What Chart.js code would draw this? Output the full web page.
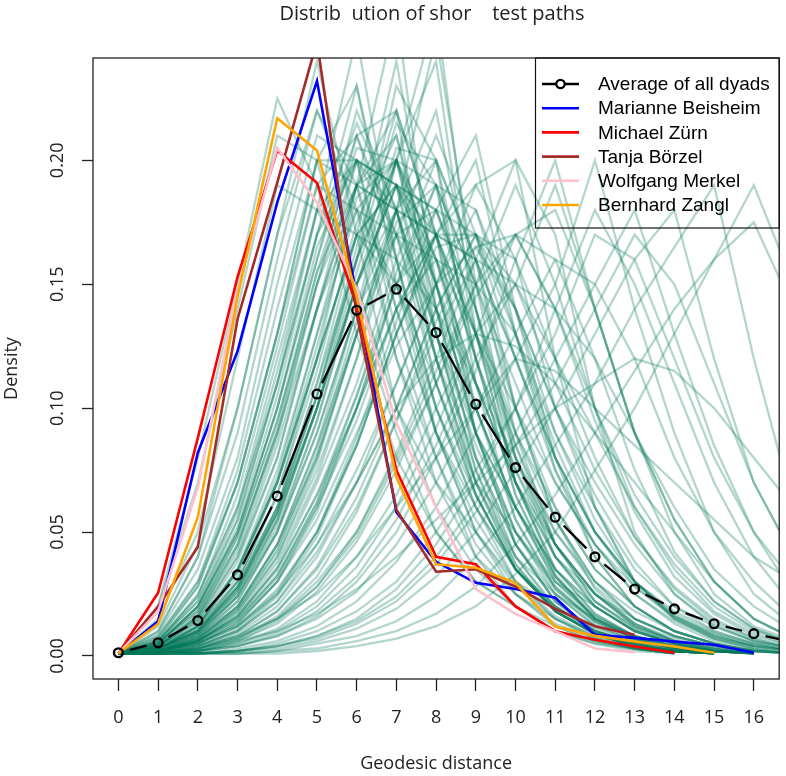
<!DOCTYPE html>
<html>
<head>
<meta charset="utf-8">
<script src="https://cdn.jsdelivr.net/npm/chart.js@4.4.1/dist/chart.umd.min.js"></script>
<style>
    html, body { margin: 0; padding: 0; background: #fff; }
    #wrap { width: 786px; height: 776px; }
</style>
</head>
<body>
<div id="wrap"><canvas id="chart" width="786" height="776"></canvas></div>
<script>
const titleText = 'Distrib  ution of shor    test paths';
const xTitle = 'Geodesic distance';
const yTitle = 'Density';

const xValues = [0, 1, 2, 3, 4, 5, 6, 7, 8, 9, 10, 11, 12, 13, 14, 15, 16, 17];
const xTicks = [0, 1, 2, 3, 4, 5, 6, 7, 8, 9, 10, 11, 12, 13, 14, 15, 16];
const yTicks = [0, 0.05, 0.1, 0.15, 0.2];

const averageValues = [0.0013, 0.0053, 0.0143, 0.0327, 0.0645, 0.1057, 0.1395, 0.148, 0.1305, 0.1016, 0.076, 0.056, 0.040, 0.027, 0.019, 0.013, 0.009, 0.0055];
const beisheimValues = [0.001, 0.014, 0.082, 0.123, 0.183, 0.232, 0.145, 0.058, 0.038, 0.0295, 0.027, 0.0235, 0.0085, 0.0073, 0.0058, 0.0045, 0.0013];
const zuernValues = [0.001, 0.0255, 0.088, 0.153, 0.204, 0.191, 0.141, 0.075, 0.040, 0.037, 0.020, 0.010, 0.0065, 0.0038, 0.0013];
const boerzelValues = [0.001, 0.020, 0.044, 0.136, 0.191, 0.248, 0.138, 0.059, 0.034, 0.035, 0.028, 0.019, 0.012, 0.0085];
const merkelValues = [0.001, 0.018, 0.068, 0.148, 0.205, 0.183, 0.148, 0.094, 0.06, 0.027, 0.017, 0.010, 0.003, 0.0015];
const zanglValues = [0.001, 0.013, 0.056, 0.145, 0.217, 0.204, 0.145, 0.072, 0.037, 0.0356, 0.0295, 0.0119, 0.0081, 0.0058, 0.0038, 0.0013];

const legendLabels = ['Average of all dyads', 'Marianne Beisheim', 'Michael Zürn', 'Tanja Börzel', 'Wolfgang Merkel', 'Bernhard Zangl'];
const legendColors = ['#000000', '#0000FF', '#FF0000', '#A52A2A', '#FFC0CB', '#FFA500'];

// one row per dyad, density at distance 0, 1, 2, ...
const dyadCurves = [
    [0.001, 0.02, 0.07, 0.14, 0.21, 0.2, 0.14, 0.09, 0.05, 0.03, 0.02, 0.01, 0.005, 0.003, 0.001],
    [0.001, 0.015, 0.05, 0.12, 0.19, 0.18, 0.15, 0.1, 0.07, 0.05, 0.03, 0.02, 0.01, 0.005, 0.002, 0.001],
    [0.001, 0.02, 0.08, 0.15, 0.225, 0.19, 0.13, 0.08, 0.05, 0.03, 0.02, 0.01, 0.006, 0.003, 0.001],
    [0.001, 0.01, 0.04, 0.09, 0.16, 0.22, 0.18, 0.12, 0.08, 0.04, 0.025, 0.015, 0.008, 0.004, 0.002, 0.001],
    [0.001, 0.008, 0.03, 0.07, 0.13, 0.2, 0.19, 0.14, 0.09, 0.06, 0.035, 0.02, 0.01, 0.005, 0.002, 0.001],
    [0.001, 0.012, 0.045, 0.1, 0.17, 0.24, 0.17, 0.1, 0.06, 0.035, 0.02, 0.012, 0.006, 0.003, 0.001],
    [0.001, 0.006, 0.025, 0.06, 0.12, 0.18, 0.17, 0.15, 0.11, 0.07, 0.05, 0.03, 0.015, 0.008, 0.004, 0.002, 0.001],
    [0.001, 0.007, 0.028, 0.07, 0.13, 0.19, 0.18, 0.15, 0.1, 0.065, 0.035, 0.018, 0.009, 0.004, 0.002, 0.001],
    [0.001, 0.009, 0.035, 0.08, 0.15, 0.21, 0.2, 0.13, 0.08, 0.045, 0.025, 0.013, 0.007, 0.003, 0.001],
    [0.001, 0.005, 0.02, 0.05, 0.1, 0.16, 0.21, 0.17, 0.12, 0.07, 0.04, 0.025, 0.015, 0.008, 0.004, 0.002, 0.001],
    [0.001, 0.004, 0.015, 0.04, 0.08, 0.14, 0.19, 0.18, 0.13, 0.09, 0.06, 0.03, 0.02, 0.01, 0.005, 0.002, 0.001],
    [0.001, 0.006, 0.022, 0.055, 0.11, 0.17, 0.23, 0.16, 0.1, 0.06, 0.035, 0.02, 0.01, 0.005, 0.002, 0.001],
    [0.001, 0.003, 0.012, 0.035, 0.07, 0.12, 0.17, 0.16, 0.14, 0.11, 0.07, 0.045, 0.025, 0.015, 0.008, 0.004, 0.002, 0.001],
    [0.001, 0.005, 0.018, 0.045, 0.09, 0.15, 0.2, 0.19, 0.12, 0.08, 0.045, 0.025, 0.012, 0.006, 0.003, 0.001],
    [0.001, 0.004, 0.016, 0.045, 0.09, 0.14, 0.18, 0.17, 0.14, 0.1, 0.06, 0.03, 0.016, 0.008, 0.004, 0.002, 0.001],
    [0.001, 0.005, 0.02, 0.05, 0.1, 0.16, 0.22, 0.18, 0.11, 0.065, 0.035, 0.018, 0.009, 0.004, 0.002, 0.001],
    [0.001, 0.006, 0.024, 0.06, 0.11, 0.18, 0.25, 0.16, 0.09, 0.05, 0.028, 0.015, 0.007, 0.003, 0.001],
    [0.001, 0.004, 0.017, 0.048, 0.095, 0.15, 0.19, 0.2, 0.13, 0.075, 0.04, 0.02, 0.01, 0.005, 0.002, 0.001],
    [0.001, 0.003, 0.01, 0.03, 0.06, 0.11, 0.16, 0.2, 0.16, 0.11, 0.07, 0.04, 0.025, 0.012, 0.006, 0.003, 0.001],
    [0.001, 0.002, 0.008, 0.022, 0.05, 0.09, 0.14, 0.18, 0.17, 0.13, 0.09, 0.06, 0.035, 0.02, 0.01, 0.005, 0.002, 0.001],
    [0.001, 0.004, 0.014, 0.035, 0.07, 0.12, 0.17, 0.24, 0.15, 0.09, 0.05, 0.028, 0.014, 0.007, 0.003, 0.001],
    [0.001, 0.002, 0.009, 0.025, 0.055, 0.1, 0.15, 0.19, 0.15, 0.11, 0.08, 0.05, 0.03, 0.018, 0.01, 0.005, 0.002, 0.001],
    [0.001, 0.003, 0.011, 0.028, 0.06, 0.105, 0.165, 0.22, 0.17, 0.1, 0.06, 0.035, 0.02, 0.01, 0.005, 0.002, 0.001],
    [0.001, 0.002, 0.007, 0.02, 0.045, 0.085, 0.13, 0.17, 0.16, 0.13, 0.1, 0.07, 0.045, 0.025, 0.013, 0.006, 0.003, 0.001],
    [0.001, 0.003, 0.01, 0.028, 0.058, 0.1, 0.15, 0.2, 0.17, 0.12, 0.075, 0.045, 0.025, 0.012, 0.006, 0.003, 0.001],
    [0.001, 0.004, 0.012, 0.03, 0.065, 0.115, 0.175, 0.21, 0.14, 0.09, 0.06, 0.035, 0.02, 0.01, 0.005, 0.002, 0.001],
    [0.001, 0.002, 0.006, 0.016, 0.035, 0.065, 0.1, 0.15, 0.19, 0.15, 0.11, 0.07, 0.045, 0.028, 0.016, 0.009, 0.004, 0.002],
    [0.001, 0.002, 0.005, 0.013, 0.03, 0.06, 0.1, 0.14, 0.17, 0.16, 0.12, 0.08, 0.05, 0.03, 0.018, 0.01, 0.005, 0.002],
    [0.001, 0.003, 0.008, 0.02, 0.045, 0.08, 0.13, 0.18, 0.22, 0.14, 0.08, 0.045, 0.025, 0.013, 0.006, 0.003, 0.001],
    [0.001, 0.002, 0.006, 0.015, 0.032, 0.06, 0.095, 0.14, 0.16, 0.15, 0.13, 0.09, 0.06, 0.035, 0.02, 0.012, 0.006, 0.003],
    [0.001, 0.002, 0.006, 0.016, 0.036, 0.07, 0.11, 0.16, 0.2, 0.16, 0.1, 0.06, 0.035, 0.02, 0.01, 0.005, 0.002, 0.001],
    [0.001, 0.002, 0.007, 0.018, 0.04, 0.075, 0.12, 0.18, 0.25, 0.15, 0.08, 0.04, 0.02, 0.01, 0.005, 0.002, 0.001],
    [0.001, 0.003, 0.009, 0.024, 0.05, 0.09, 0.14, 0.17, 0.18, 0.14, 0.09, 0.055, 0.03, 0.015, 0.008, 0.004, 0.002],
    [0.001, 0.002, 0.004, 0.01, 0.022, 0.045, 0.075, 0.11, 0.15, 0.18, 0.14, 0.1, 0.07, 0.045, 0.025, 0.013, 0.006, 0.003],
    [0.001, 0.001, 0.003, 0.008, 0.018, 0.035, 0.06, 0.095, 0.13, 0.16, 0.15, 0.12, 0.09, 0.06, 0.037, 0.02, 0.01, 0.005],
    [0.001, 0.002, 0.005, 0.012, 0.027, 0.05, 0.085, 0.13, 0.17, 0.2, 0.13, 0.08, 0.05, 0.03, 0.016, 0.008, 0.004, 0.002],
    [0.001, 0.001, 0.004, 0.01, 0.022, 0.042, 0.07, 0.1, 0.14, 0.17, 0.15, 0.11, 0.075, 0.048, 0.028, 0.015, 0.007, 0.003],
    [0.001, 0.002, 0.006, 0.014, 0.03, 0.055, 0.09, 0.125, 0.15, 0.165, 0.14, 0.09, 0.055, 0.03, 0.016, 0.008, 0.004],
    [0.001, 0.001, 0.003, 0.007, 0.015, 0.03, 0.05, 0.08, 0.115, 0.15, 0.17, 0.14, 0.1, 0.065, 0.04, 0.022, 0.011, 0.005],
    [0.001, 0.001, 0.002, 0.005, 0.011, 0.022, 0.04, 0.065, 0.1, 0.13, 0.15, 0.14, 0.12, 0.09, 0.06, 0.035, 0.02, 0.01],
    [0.001, 0.001, 0.003, 0.007, 0.015, 0.028, 0.048, 0.078, 0.11, 0.15, 0.19, 0.15, 0.1, 0.06, 0.035, 0.018, 0.009, 0.004],
    [0.001, 0.002, 0.004, 0.008, 0.015, 0.025, 0.04, 0.06, 0.08, 0.1, 0.12, 0.115, 0.1, 0.085, 0.07, 0.055, 0.04, 0.03],
    [0.001, 0.001, 0.002, 0.004, 0.009, 0.018, 0.032, 0.055, 0.085, 0.12, 0.15, 0.19, 0.14, 0.09, 0.055, 0.03, 0.015, 0.007],
    [0.001, 0.001, 0.002, 0.004, 0.008, 0.015, 0.026, 0.045, 0.07, 0.1, 0.13, 0.16, 0.15, 0.12, 0.08, 0.05, 0.03, 0.015],
    [0.001, 0.001, 0.002, 0.004, 0.008, 0.016, 0.03, 0.05, 0.08, 0.115, 0.16, 0.2, 0.14, 0.09, 0.055, 0.03, 0.015, 0.007],
    [0.001, 0.001, 0.001, 0.003, 0.006, 0.012, 0.022, 0.038, 0.06, 0.09, 0.12, 0.15, 0.2, 0.14, 0.09, 0.05, 0.025, 0.012],
    [0.001, 0.001, 0.001, 0.002, 0.005, 0.01, 0.018, 0.03, 0.05, 0.075, 0.1, 0.13, 0.17, 0.16, 0.12, 0.08, 0.05, 0.025],
    [0.001, 0.001, 0.001, 0.002, 0.004, 0.008, 0.015, 0.027, 0.045, 0.07, 0.1, 0.14, 0.18, 0.15, 0.11, 0.07, 0.04, 0.02],
    [0.001, 0.001, 0.001, 0.002, 0.004, 0.008, 0.014, 0.024, 0.04, 0.062, 0.09, 0.12, 0.15, 0.18, 0.13, 0.085, 0.05, 0.03],
    [0.001, 0.001, 0.001, 0.002, 0.004, 0.007, 0.013, 0.022, 0.037, 0.058, 0.085, 0.11, 0.14, 0.17, 0.15, 0.11, 0.07, 0.04],
    [0.001, 0.001, 0.001, 0.002, 0.003, 0.006, 0.011, 0.019, 0.032, 0.05, 0.075, 0.1, 0.13, 0.16, 0.18, 0.12, 0.07, 0.04],
    [0.001, 0.001, 0.001, 0.001, 0.002, 0.005, 0.008, 0.014, 0.024, 0.04, 0.06, 0.085, 0.11, 0.14, 0.165, 0.19, 0.12, 0.06],
    [0.001, 0.001, 0.001, 0.001, 0.002, 0.003, 0.006, 0.01, 0.017, 0.028, 0.045, 0.065, 0.09, 0.115, 0.14, 0.16, 0.175, 0.14],
    [0.001, 0.001, 0.001, 0.001, 0.001, 0.002, 0.004, 0.007, 0.012, 0.02, 0.033, 0.05, 0.075, 0.1, 0.13, 0.16, 0.19, 0.15],
    [0.001, 0.002, 0.003, 0.006, 0.01, 0.017, 0.027, 0.04, 0.055, 0.07, 0.085, 0.1, 0.11, 0.12, 0.115, 0.1, 0.08, 0.06],
    [0.001, 0.002, 0.005, 0.012, 0.025, 0.045, 0.07, 0.1, 0.12, 0.13, 0.125, 0.11, 0.09, 0.07, 0.05, 0.03, 0.015, 0.007],
    [0.001, 0.008, 0.03, 0.075, 0.14, 0.2, 0.2, 0.14, 0.09, 0.055, 0.03, 0.016, 0.008, 0.004, 0.002, 0.001],
    [0.001, 0.005, 0.02, 0.055, 0.11, 0.17, 0.2, 0.18, 0.12, 0.07, 0.035, 0.018, 0.009, 0.004, 0.002, 0.001],
    [0.001, 0.003, 0.012, 0.035, 0.075, 0.13, 0.18, 0.2, 0.16, 0.1, 0.055, 0.028, 0.014, 0.007, 0.003, 0.001],
    [0.001, 0.004, 0.015, 0.04, 0.085, 0.14, 0.19, 0.21, 0.15, 0.09, 0.045, 0.022, 0.011, 0.005, 0.002, 0.001],
    [0.001, 0.006, 0.024, 0.065, 0.125, 0.19, 0.21, 0.16, 0.1, 0.06, 0.03, 0.015, 0.007, 0.003, 0.001],
    [0.001, 0.002, 0.009, 0.026, 0.058, 0.105, 0.16, 0.2, 0.19, 0.12, 0.065, 0.032, 0.015, 0.007, 0.003, 0.001],
    [0.001, 0.003, 0.011, 0.03, 0.065, 0.12, 0.19, 0.26, 0.14, 0.08, 0.045, 0.022, 0.01, 0.005, 0.002, 0.001],
    [0.001, 0.002, 0.007, 0.02, 0.045, 0.085, 0.14, 0.2, 0.24, 0.13, 0.07, 0.035, 0.017, 0.008, 0.003, 0.001],
    [0.001, 0.005, 0.019, 0.05, 0.1, 0.165, 0.2, 0.19, 0.13, 0.075, 0.037, 0.018, 0.009, 0.004, 0.002, 0.001],
    [0.001, 0.004, 0.014, 0.038, 0.08, 0.14, 0.2, 0.19, 0.15, 0.09, 0.05, 0.025, 0.012, 0.006, 0.003, 0.001],
    [0.001, 0.003, 0.01, 0.028, 0.06, 0.11, 0.17, 0.19, 0.17, 0.12, 0.075, 0.04, 0.02, 0.01, 0.005, 0.002, 0.001],
    [0.001, 0.002, 0.006, 0.018, 0.04, 0.078, 0.13, 0.18, 0.2, 0.16, 0.09, 0.045, 0.022, 0.011, 0.005, 0.002, 0.001],
    [0.001, 0.007, 0.028, 0.07, 0.13, 0.2, 0.23, 0.15, 0.09, 0.05, 0.025, 0.012, 0.006, 0.003, 0.001],
    [0.001, 0.01, 0.04, 0.1, 0.17, 0.22, 0.19, 0.12, 0.07, 0.04, 0.02, 0.01, 0.005, 0.002, 0.001],
    [0.001, 0.004, 0.016, 0.042, 0.088, 0.15, 0.21, 0.22, 0.13, 0.07, 0.037, 0.018, 0.009, 0.004, 0.002, 0.001],
    [0.001, 0.002, 0.008, 0.022, 0.05, 0.095, 0.15, 0.19, 0.18, 0.14, 0.085, 0.045, 0.022, 0.011, 0.005, 0.002, 0.001],
    [0.001, 0.003, 0.012, 0.034, 0.072, 0.13, 0.19, 0.22, 0.17, 0.09, 0.045, 0.022, 0.01, 0.005, 0.002, 0.001],
    [0.001, 0.002, 0.006, 0.017, 0.038, 0.072, 0.12, 0.17, 0.21, 0.17, 0.1, 0.055, 0.027, 0.013, 0.006, 0.002, 0.001],
    [0.001, 0.002, 0.005, 0.014, 0.032, 0.062, 0.105, 0.155, 0.19, 0.18, 0.13, 0.075, 0.04, 0.02, 0.01, 0.005, 0.002, 0.001],
    [0.001, 0.001, 0.004, 0.011, 0.025, 0.05, 0.088, 0.135, 0.18, 0.21, 0.14, 0.08, 0.04, 0.02, 0.01, 0.005, 0.002, 0.001],
    [0.001, 0.005, 0.02, 0.052, 0.105, 0.17, 0.215, 0.18, 0.12, 0.065, 0.035, 0.018, 0.009, 0.004, 0.002, 0.001],
    [0.001, 0.006, 0.022, 0.058, 0.115, 0.18, 0.2, 0.17, 0.11, 0.065, 0.035, 0.018, 0.009, 0.004, 0.002, 0.001],
    [0.001, 0.003, 0.012, 0.032, 0.07, 0.125, 0.185, 0.2, 0.15, 0.1, 0.06, 0.032, 0.016, 0.008, 0.004, 0.002, 0.001],
    [0.001, 0.002, 0.008, 0.024, 0.054, 0.1, 0.16, 0.215, 0.19, 0.12, 0.065, 0.032, 0.015, 0.007, 0.003, 0.001],
    [0.001, 0.001, 0.003, 0.009, 0.02, 0.04, 0.07, 0.11, 0.15, 0.19, 0.2, 0.12, 0.06, 0.03, 0.015, 0.007, 0.003, 0.001],
    [0.001, 0.001, 0.002, 0.006, 0.014, 0.028, 0.05, 0.082, 0.12, 0.16, 0.2, 0.17, 0.1, 0.05, 0.025, 0.012, 0.006, 0.003],
    [0.001, 0.002, 0.005, 0.012, 0.026, 0.05, 0.085, 0.13, 0.17, 0.19, 0.16, 0.1, 0.06, 0.03, 0.015, 0.007, 0.003, 0.001],
    [0.001, 0.001, 0.002, 0.005, 0.01, 0.02, 0.036, 0.06, 0.092, 0.13, 0.17, 0.18, 0.14, 0.09, 0.05, 0.025, 0.012, 0.006],
    [0.001, 0.003, 0.01, 0.027, 0.058, 0.105, 0.16, 0.23, 0.2, 0.11, 0.055, 0.027, 0.013, 0.006, 0.003, 0.001],
    [0.001, 0.002, 0.007, 0.019, 0.043, 0.082, 0.135, 0.2, 0.26, 0.14, 0.07, 0.033, 0.015, 0.007, 0.003, 0.001],
    [0.001, 0.004, 0.016, 0.044, 0.092, 0.155, 0.205, 0.2, 0.14, 0.08, 0.04, 0.019, 0.009, 0.004, 0.002, 0.001],
    [0.001, 0.003, 0.01, 0.026, 0.055, 0.1, 0.155, 0.205, 0.2, 0.13, 0.07, 0.035, 0.017, 0.008, 0.004, 0.002, 0.001],
    [0.001, 0.002, 0.006, 0.016, 0.035, 0.065, 0.105, 0.15, 0.17, 0.16, 0.12, 0.08, 0.05, 0.03, 0.017, 0.009, 0.005, 0.002],
    [0.001, 0.001, 0.004, 0.01, 0.024, 0.048, 0.085, 0.13, 0.165, 0.17, 0.14, 0.1, 0.065, 0.038, 0.02, 0.01, 0.005, 0.002],
    [0.001, 0.002, 0.005, 0.013, 0.03, 0.058, 0.1, 0.15, 0.18, 0.17, 0.12, 0.075, 0.045, 0.025, 0.014, 0.007, 0.004, 0.002],
    [0.001, 0.001, 0.003, 0.008, 0.018, 0.036, 0.064, 0.1, 0.14, 0.17, 0.16, 0.12, 0.08, 0.048, 0.027, 0.014, 0.007, 0.003],
    [0.001, 0.003, 0.009, 0.024, 0.052, 0.095, 0.15, 0.19, 0.18, 0.13, 0.08, 0.045, 0.025, 0.013, 0.007, 0.003, 0.001],
    [0.001, 0.004, 0.013, 0.034, 0.07, 0.12, 0.17, 0.19, 0.16, 0.11, 0.07, 0.04, 0.022, 0.012, 0.006, 0.003, 0.001],
    [0.001, 0.002, 0.006, 0.015, 0.033, 0.062, 0.1, 0.14, 0.17, 0.17, 0.13, 0.085, 0.05, 0.028, 0.015, 0.008, 0.004, 0.002],
    [0.001, 0.001, 0.002, 0.006, 0.013, 0.026, 0.046, 0.075, 0.11, 0.145, 0.17, 0.16, 0.12, 0.075, 0.042, 0.022, 0.011, 0.005],
    [0.001, 0.003, 0.01, 0.027, 0.057, 0.1, 0.15, 0.18, 0.17, 0.13, 0.085, 0.05, 0.028, 0.015, 0.008, 0.004, 0.002],
    [0.001, 0.002, 0.007, 0.019, 0.042, 0.08, 0.13, 0.175, 0.19, 0.15, 0.1, 0.055, 0.03, 0.015, 0.008, 0.004, 0.002],
    [0.001, 0.005, 0.018, 0.048, 0.095, 0.155, 0.19, 0.18, 0.13, 0.085, 0.05, 0.027, 0.014, 0.007, 0.003, 0.001],
    [0.001, 0.001, 0.003, 0.007, 0.016, 0.032, 0.058, 0.095, 0.135, 0.165, 0.17, 0.14, 0.095, 0.058, 0.032, 0.017, 0.008, 0.004]
];

const green = 'rgba(0, 118, 88, 0.3)';
const dotGap = 12;

function toPoints(values) {
    return values.map((v, i) => ({ x: xValues[i], y: v }));
}

const datasets = [
    {
        data: toPoints(averageValues),
        borderColor: '#000',
        borderWidth: 2.3,
        pointRadius: 4.4,
        pointBorderWidth: 2.4,
        pointBorderColor: '#000',
        pointBackgroundColor: 'rgba(0,0,0,0)',
        segment: {
            borderDash: (c) => {
                const len = Math.hypot(c.p1.x - c.p0.x, c.p1.y - c.p0.y);
                return [Math.max(len - 2 * dotGap, 0.1), 2 * dotGap];
            },
            borderDashOffset: -dotGap,
        },
    },
];
[zanglValues, merkelValues, boerzelValues, zuernValues, beisheimValues].forEach((vals, i) => {
    datasets.push({
        data: toPoints(vals),
        borderColor: legendColors[5 - i],
        borderWidth: 2.6,
        pointRadius: 0,
    });
});
dyadCurves.forEach((vals) => {
    datasets.push({
        data: toPoints(vals),
        borderColor: green,
        borderWidth: 2.3,
        pointRadius: 0,
    });
});

const axisFont = { family: '"Open Sans", sans-serif', size: 18 };

const overlay = {
    id: 'overlay',
    afterDraw(chart) {
        const { ctx, chartArea: a, scales } = chart;
        ctx.save();
        ctx.strokeStyle = '#222';
        ctx.lineWidth = 1.3;
        ctx.strokeRect(a.left, a.top, a.right - a.left, a.bottom - a.top);

        ctx.fillStyle = '#222';
        ctx.font = '18px "Open Sans"';
        ctx.textAlign = 'center';
        ctx.textBaseline = 'middle';
        yTicks.forEach((v) => {
            const y = scales.y.getPixelForValue(v);
            ctx.save();
            ctx.translate(58, y);
            ctx.rotate(-Math.PI / 2);
            ctx.fillText(v.toFixed(2), 0, 0);
            ctx.restore();
        });

        ctx.font = '20px "Open Sans"';
        ctx.textBaseline = 'alphabetic';
        ctx.fillText(titleText, 432, 20);

        // legend, top right inside the frame
        const lx = 535.5, ly = 58, lw = a.right - 535.5, lh = 170;
        ctx.strokeStyle = '#111';
        ctx.lineWidth = 1.2;
        ctx.strokeRect(lx, ly, lw, lh);
        ctx.font = '19px "Liberation Sans"';
        ctx.textAlign = 'left';
        ctx.textBaseline = 'middle';
        legendLabels.forEach((label, i) => {
            const y = 84 + i * 24.2;
            ctx.strokeStyle = legendColors[i];
            ctx.lineWidth = i === 0 ? 2.3 : 2.6;
            ctx.beginPath();
            ctx.moveTo(542, y);
            ctx.lineTo(579, y);
            ctx.stroke();
            if (i === 0) {
                ctx.fillStyle = '#fff';
                ctx.beginPath();
                ctx.arc(560.5, y, 4.2, 0, Math.PI * 2);
                ctx.fill();
                ctx.stroke();
            }
            ctx.fillStyle = '#000';
            ctx.fillText(label, 598, y + 1);
        });
        ctx.restore();
    },
};

new Chart(document.getElementById('chart'), {
    type: 'line',
    data: { datasets },
    options: {
        responsive: false,
        animation: false,
        layout: { padding: { top: 58, right: 2, left: 0, bottom: 0 } },
        plugins: {
            legend: { display: false },
            tooltip: { enabled: false },
            title: { display: false },
        },
        elements: { line: { tension: 0 } },
        scales: {
            x: {
                type: 'linear',
                min: -0.64,
                max: 16.64,
                afterBuildTicks: (s) => { s.ticks = xTicks.map((v) => ({ value: v })); },
                afterFit: (s) => { s.height = 97; },
                border: { display: false },
                grid: { drawOnChartArea: false, drawTicks: true, tickLength: 12, tickColor: '#222', tickWidth: 1.3 },
                ticks: { font: axisFont, color: '#222', padding: 16, autoSkip: false, maxRotation: 0, callback: (v) => String(v) },
                title: { display: true, text: xTitle, font: axisFont, color: '#222', padding: { top: 0, bottom: 1 } },
            },
            y: {
                type: 'linear',
                min: -0.0093,
                max: 0.2413,
                afterBuildTicks: (s) => { s.ticks = yTicks.map((v) => ({ value: v })); },
                afterFit: (s) => { s.width = 93; },
                border: { display: false },
                grid: { drawOnChartArea: false, drawTicks: true, tickLength: 11, tickColor: '#222', tickWidth: 1.3 },
                ticks: { display: false },
                title: { display: true, text: yTitle, font: axisFont, color: '#222', padding: { top: 1, bottom: 0 } },
            },
        },
    },
    plugins: [overlay],
});
</script>
</body>
</html>
